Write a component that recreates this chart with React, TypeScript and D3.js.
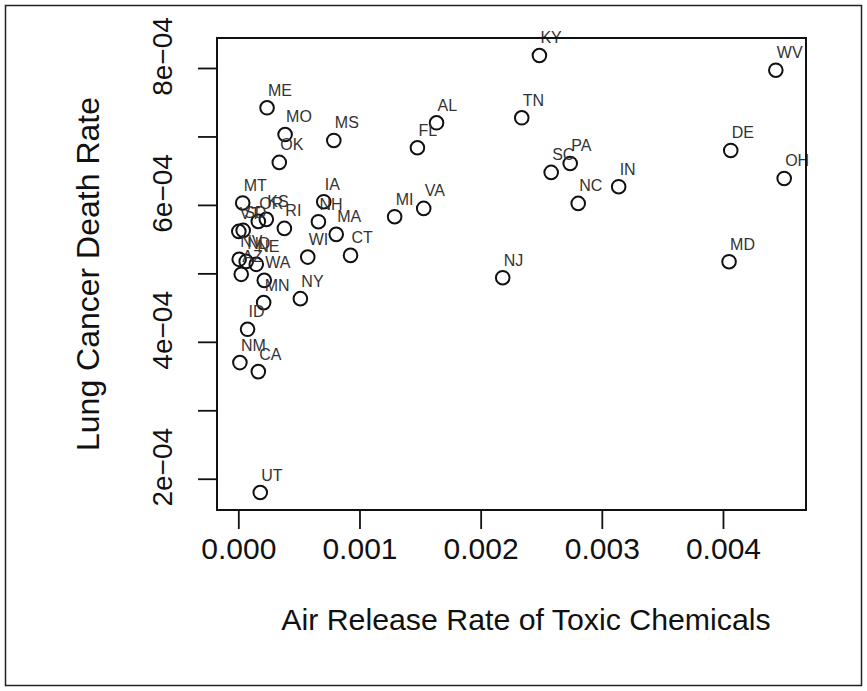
import React from 'react';
import * as d3 from 'd3';

// state abbreviations, with air release rate and lung cancer death rate
const states = [
  'KY', 'WV', 'DE', 'OH', 'IN', 'MD', 'TN', 'AL', 'FL', 'SC', 'PA', 'NC', 'NJ', 'MI',
  'VA', 'CT', 'MA', 'NH', 'IA', 'WI', 'NY', 'MN', 'ID', 'NM', 'CA', 'UT', 'ME', 'MO',
  'MS', 'OK', 'MT', 'OR', 'KS', 'RI', 'VT', 'SD', 'NV', 'ND', 'NE', 'AZ', 'WA',
];
const airRelease = [
  0.002481, 0.004432, 0.00406, 0.004501, 0.003135, 0.004046, 0.002335, 0.001632, 0.001474,
  0.002578, 0.002735, 0.002801, 0.002178, 0.001286, 0.001526, 0.000922, 0.000804, 0.000657,
  0.000701, 0.000569, 0.000508, 0.000205, 0.000072, 0.000009, 0.000161, 0.000177, 0.000233,
  0.000382, 0.000784, 0.000334, 0.000032, 0.000161, 0.000227, 0.000376, 0.0, 0.000036,
  0.000003, 0.000061, 0.000144, 0.00002, 0.00021,
];
const lungCancer = [
  8.19e-4, 7.975e-4, 6.803e-4, 6.394e-4, 6.273e-4, 5.178e-4, 7.28e-4, 7.207e-4, 6.842e-4,
  6.482e-4, 6.613e-4, 6.029e-4, 4.944e-4, 5.835e-4, 5.956e-4, 5.27e-4, 5.577e-4, 5.762e-4,
  6.054e-4, 5.245e-4, 4.638e-4, 4.58e-4, 4.19e-4, 3.704e-4, 3.572e-4, 1.806e-4, 7.426e-4,
  7.036e-4, 6.949e-4, 6.628e-4, 6.036e-4, 5.766e-4, 5.796e-4, 5.664e-4, 5.62e-4, 5.635e-4,
  5.212e-4, 5.182e-4, 5.139e-4, 4.993e-4, 4.905e-4,
];

const xTicks = [0, 0.001, 0.002, 0.003, 0.004];
const yTicks = [2e-4, 3e-4, 4e-4, 5e-4, 6e-4, 7e-4, 8e-4];
// R drops the odd labels because they would overlap
const yTickLabels = ['2e\u221204', '', '4e\u221204', '', '6e\u221204', '', '8e\u221204'];

const xTitle = 'Air Release Rate of Toxic Chemicals';
const yTitle = 'Lung Cancer Death Rate';

const W = 867;
const H = 691;
const plot = { left: 217, right: 806, top: 38, bottom: 510 };
const font = '"Liberation Sans", Arial, Helvetica, sans-serif';

// R style axis range: data extent plus 4% on each side
const padded = (vals: number[]) => {
  const [lo, hi] = d3.extent(vals) as [number, number];
  const r = hi - lo;
  return [lo - 0.04 * r, hi + 0.04 * r];
};

export default function App() {
  const x = d3.scaleLinear().domain(padded(airRelease)).range([plot.left, plot.right]);
  const y = d3.scaleLinear().domain(padded(lungCancer)).range([plot.bottom, plot.top]);
  const fmt = d3.format('.3f');
  const tickLen = 19;
  const midY = (plot.top + plot.bottom) / 2;

  return (
    <svg
      width={W}
      height={H}
      style={{ position: 'absolute', left: 0, top: 0, background: '#fff' }}
      fontFamily={font}
    >
      <rect x={5.5} y={5.5} width={W - 11} height={H - 11} fill="none" stroke="#222" strokeWidth={1.5} />

      {/* points */}
      {states.map((s, i) => (
        <circle
          key={s}
          cx={x(airRelease[i])}
          cy={y(lungCancer[i])}
          r={6.8}
          fill="none"
          stroke="#111"
          strokeWidth={2}
        />
      ))}
      {states.map((s, i) => (
        <text
          key={'l' + s}
          x={x(airRelease[i]) + 1}
          y={y(lungCancer[i]) - 12}
          fontSize={16}
          fill="#333"
        >
          {s}
        </text>
      ))}

      <rect
        x={plot.left}
        y={plot.top}
        width={plot.right - plot.left}
        height={plot.bottom - plot.top}
        fill="none"
        stroke="#111"
        strokeWidth={2}
      />

      {/* x axis */}
      {xTicks.map((t) => (
        <g key={'x' + t}>
          <line x1={x(t)} x2={x(t)} y1={plot.bottom} y2={plot.bottom + tickLen} stroke="#111" strokeWidth={1.8} />
          <text x={x(t)} y={559} textAnchor="middle" fontSize={30} fill="#111">
            {fmt(t)}
          </text>
        </g>
      ))}

      {/* y axis */}
      {yTicks.map((t, i) => (
        <g key={'y' + t}>
          <line x1={plot.left - tickLen} x2={plot.left} y1={y(t)} y2={y(t)} stroke="#111" strokeWidth={1.8} />
          {yTickLabels[i] && (
            <text
              transform={`translate(172,${y(t) - 12}) rotate(-90)`}
              textAnchor="middle"
              fontSize={28}
              fill="#111"
            >
              {yTickLabels[i]}
            </text>
          )}
        </g>
      ))}

      <text x={526} y={630} textAnchor="middle" fontSize={30.3} fill="#111">
        {xTitle}
      </text>
      <text transform={`translate(99,${midY}) rotate(-90)`} textAnchor="middle" fontSize={32} fill="#111">
        {yTitle}
      </text>
    </svg>
  );
}
